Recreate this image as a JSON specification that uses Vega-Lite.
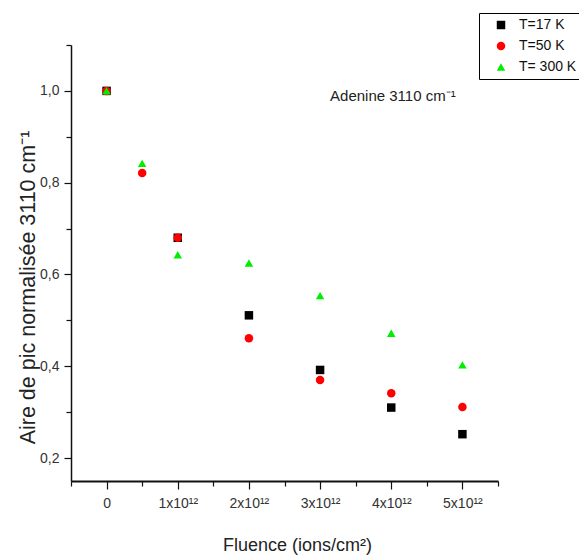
{
  "$schema": "https://vega.github.io/schema/vega-lite/v6.json",
  "autosize": "none",
  "width": 427,
  "height": 436,
  "padding": {"left": 71, "top": 45, "right": 81, "bottom": 75},
  "background": "white",
  "config": {
    "view": {"stroke": null},
    "font": "Liberation Sans",
    "axis": {"grid": false, "domainColor": "#111", "tickColor": "#111", "labelColor": "#333", "titleColor": "#222", "titleFontWeight": "normal"}
  },
  "data": {
    "values": [
      {"fluence": 0, "aire": 1.0, "serie": "T=17 K"},
      {"fluence": 1e12, "aire": 0.68, "serie": "T=17 K"},
      {"fluence": 2e12, "aire": 0.511, "serie": "T=17 K"},
      {"fluence": 3e12, "aire": 0.392, "serie": "T=17 K"},
      {"fluence": 4e12, "aire": 0.31, "serie": "T=17 K"},
      {"fluence": 5e12, "aire": 0.252, "serie": "T=17 K"},
      {"fluence": 0, "aire": 1.0, "serie": "T=50 K"},
      {"fluence": 5e11, "aire": 0.821, "serie": "T=50 K"},
      {"fluence": 1e12, "aire": 0.68, "serie": "T=50 K"},
      {"fluence": 2e12, "aire": 0.461, "serie": "T=50 K"},
      {"fluence": 3e12, "aire": 0.37, "serie": "T=50 K"},
      {"fluence": 4e12, "aire": 0.341, "serie": "T=50 K"},
      {"fluence": 5e12, "aire": 0.311, "serie": "T=50 K"},
      {"fluence": 0, "aire": 1.0, "serie": "T= 300 K"},
      {"fluence": 5e11, "aire": 0.842, "serie": "T= 300 K"},
      {"fluence": 1e12, "aire": 0.643, "serie": "T= 300 K"},
      {"fluence": 2e12, "aire": 0.625, "serie": "T= 300 K"},
      {"fluence": 3e12, "aire": 0.554, "serie": "T= 300 K"},
      {"fluence": 4e12, "aire": 0.472, "serie": "T= 300 K"},
      {"fluence": 5e12, "aire": 0.403, "serie": "T= 300 K"}
    ]
  },
  "layer": [
    {
      "mark": {"type": "point", "filled": true, "opacity": 1, "strokeWidth": 0},
      "encoding": {
        "x": {
          "field": "fluence", "type": "quantitative",
          "scale": {"domain": [-5e11, 5.5e12], "nice": false, "zero": false},
          "axis": {
            "orient": "bottom",
            "values": [0, 1e12, 2e12, 3e12, 4e12, 5e12],
            "labelExpr": "datum.value == 0 ? '0' : format(datum.value / 1e12, 'd') + 'x10¹²'",
            "labelFont": "Liberation Sans Narrow, Liberation Sans",
            "labelFontSize": 14,
            "labelPadding": 7,
            "tickSize": 8,
            "tickWidth": 1.2,
            "domainWidth": 2,
            "title": "Fluence (ions/cm²)",
            "titleFont": "Liberation Sans",
            "titleFontSize": 18,
            "titleX": 226,
            "titleY": 55
          }
        },
        "y": {
          "field": "aire", "type": "quantitative",
          "scale": {"domain": [0.15, 1.1], "nice": false, "zero": false},
          "axis": {
            "orient": "left",
            "values": [0.2, 0.4, 0.6, 0.8, 1.0],
            "labelExpr": "replace(format(datum.value, '.1f'), '.', ',')",
            "labelFont": "Liberation Sans Narrow, Liberation Sans",
            "labelFontSize": 14,
            "labelPadding": 5,
            "tickSize": 7,
            "tickWidth": 1.2,
            "domainWidth": 1.5,
            "title": "Aire de pic normalisée 3110 cm⁻¹",
            "titleFont": "Liberation Sans",
            "titleFontSize": 21.5,
            "titleX": -43,
            "titleY": 242,
            "titleAngle": -90,
            "titleBaseline": "middle",
            "titleAlign": "center"
          }
        },
        "color": {
          "field": "serie", "type": "nominal",
          "scale": {"domain": ["T=17 K", "T=50 K", "T= 300 K"], "range": ["#000000", "#ff0000", "#00ee00"]},
          "legend": {
            "title": null,
            "orient": "none",
            "legendX": 408,
            "legendY": -32,
            "strokeColor": "#000",
            "padding": 5,
            "symbolOffset": 10,
            "labelOffset": 11,
            "labelFontSize": 14,
            "labelColor": "#111",
            "rowPadding": 7,
            "symbolSize": 80,
            "symbolStrokeWidth": 0
          }
        },
        "shape": {
          "field": "serie", "type": "nominal",
          "scale": {"domain": ["T=17 K", "T=50 K", "T= 300 K"], "range": ["square", "circle", "triangle-up"]},
          "legend": null
        },
        "size": {
          "field": "serie", "type": "nominal",
          "scale": {"domain": ["T=17 K", "T=50 K", "T= 300 K"], "range": [72, 72, 120]},
          "legend": null
        }
      }
    },
    {
      "mark": {"type": "point", "opacity": 0},
      "encoding": {
        "x": {
          "field": "fluence", "type": "quantitative",
          "scale": {"domain": [-5e11, 5.5e12], "nice": false, "zero": false},
          "axis": {"orient": "bottom", "values": [-5e11, 5e11, 1.5e12, 2.5e12, 3.5e12, 4.5e12, 5.5e12], "labels": false, "domain": false, "tickSize": 5, "tickWidth": 1.2, "title": null}
        },
        "y": {
          "field": "aire", "type": "quantitative",
          "scale": {"domain": [0.15, 1.1], "nice": false, "zero": false},
          "axis": {"orient": "left", "values": [0.3, 0.5, 0.7, 0.9, 1.1], "labels": false, "domain": false, "tickSize": 5, "tickWidth": 1.2, "title": null}
        }
      }
    },
    {
      "data": {"values": [{"note": "Adenine 3110 cm⁻¹"}]},
      "mark": {"type": "text", "align": "left", "baseline": "alphabetic", "fontSize": 15, "color": "#222", "font": "Liberation Sans"},
      "encoding": {
        "x": {"datum": 3.14e12, "type": "quantitative", "axis": null},
        "y": {"datum": 0.977, "type": "quantitative", "axis": null},
        "text": {"field": "note"}
      }
    }
  ],
  "resolve": {"axis": {"x": "independent", "y": "independent"}}
}
